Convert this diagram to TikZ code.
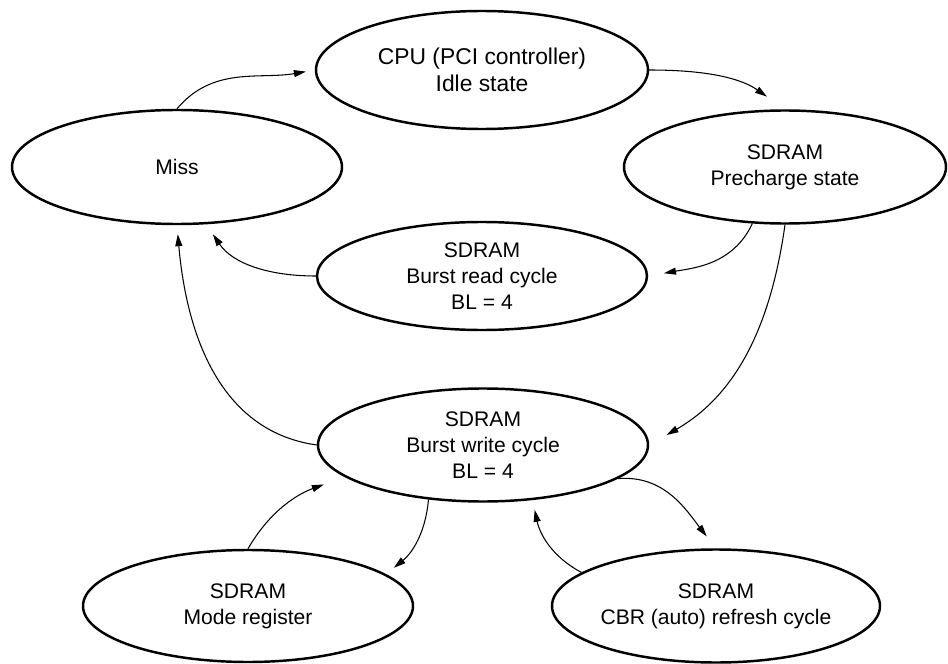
\documentclass[tikz,border=0pt]{standalone}
\usepackage{fontspec}
\setmainfont{Liberation Sans}
\usetikzlibrary{shapes.geometric, arrows.meta}
\tikzset{
  sdstate/.style={
    ellipse,
    draw=black,
    line width=1.4pt,
    inner sep=0pt,
    minimum width=6.6cm,
    minimum height=2.26cm,
    align=center,
    font=\fontsize{12}{14.8}\selectfont
  },
  every edge/.style={
    draw=black,
    line width=0.6pt,
    -{Triangle[length=0.24cm,width=0.14cm]}
  }
}

\begin{document}
\begin{tikzpicture}
  \useasboundingbox (0,0) rectangle (18.96,-13.28);

  \node[sdstate, minimum width=6.64cm, minimum height=2.36cm,
        font=\fontsize{13}{15.5}\selectfont] (cpu) at (9.64,-1.4) {CPU (PCI controller)\\Idle state};
  \node[sdstate, minimum height=2.28cm] (miss) at (3.54,-3.34) {Miss};
  \node[sdstate, minimum width=6.44cm] (pre) at (15.7,-3.34) {SDRAM\\Precharge state};
  \node[sdstate, minimum height=2.16cm] (rd) at (9.64,-5.52) {SDRAM\\Burst read cycle\\BL = 4};
  \node[sdstate] (wr) at (9.66,-8.9) {SDRAM\\Burst write cycle\\BL = 4};
  \node[sdstate, minimum height=2.24cm] (mode) at (4.96,-12.12) {SDRAM\\Mode register};
  \node[sdstate, minimum width=6.56cm] (cbr) at (14.32,-12.12) {SDRAM\\CBR (auto) refresh cycle};

  \path (miss.north) edge[out=50, in=190, shorten >=0.18cm] (cpu.west)
        (cpu.east) edge[out=0, in=145, shorten >=0.44cm] (pre.north)
        (pre.240) edge[out=245, in=10, shorten >=0.32cm] (rd.east)
        (pre.south) edge[out=262, in=30, shorten >=0.4cm] (wr.east)
        (rd.west) edge[out=180, in=304, shorten >=0.24cm] (miss.297)
        (wr.west) edge[out=172, in=275, shorten >=0.18cm] (miss.south)
        (mode.north) edge[out=60, in=200, shorten >=0.44cm] (wr.193)
        (wr.225) edge[out=265, in=39, shorten >=0.2cm] (mode.13)
        (wr.346) edge[out=5, in=128, shorten >=0.3cm] (cbr.north)
        (cbr.166) edge[out=152, in=282, shorten >=0.2cm] (wr.312);
\end{tikzpicture}
\end{document}
